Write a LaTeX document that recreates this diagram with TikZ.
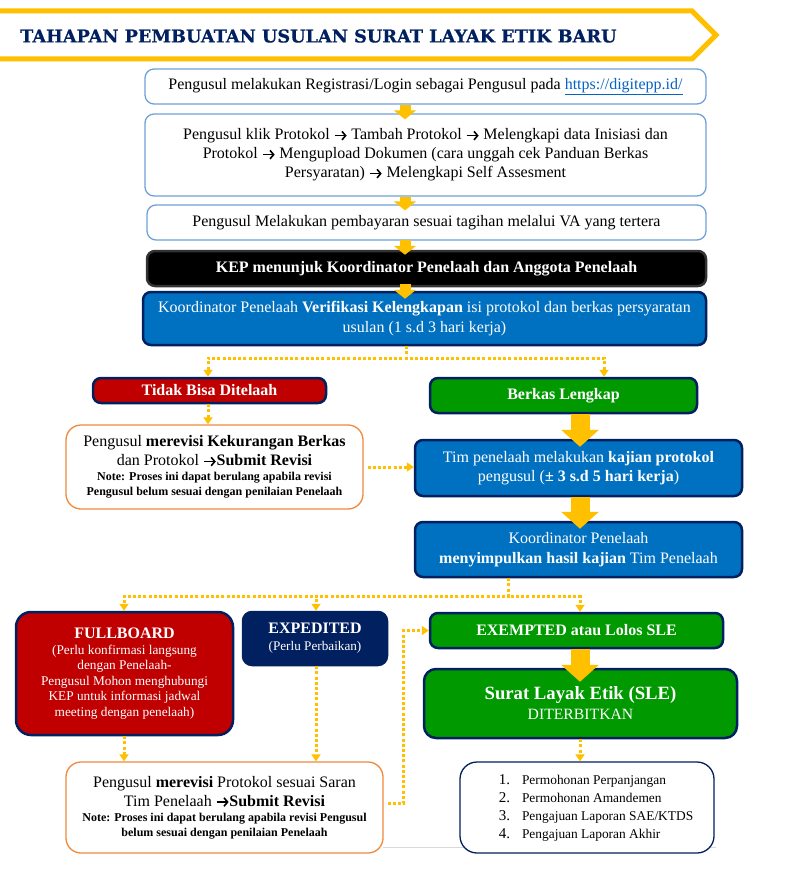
\documentclass[tikz,border=0pt]{standalone}
\usepackage{fontspec}
\setmainfont{Liberation Serif}
\newfontfamily\titlefont{DejaVu Serif}[BoldFeatures={FakeBold=0.6}]
\usetikzlibrary{arrows.meta,calc}
\definecolor{cyel}{HTML}{FFC000}
\definecolor{cnavy}{HTML}{002060}
\definecolor{cblue}{HTML}{0070C0}
\definecolor{cgreen}{HTML}{009900}
\definecolor{cred}{HTML}{C00000}
\definecolor{clblue}{HTML}{6FA0D8}
\definecolor{corange}{HTML}{F08A3C}
\definecolor{clink}{HTML}{0563C1}
\definecolor{cgray}{HTML}{D9D9D9}
\newcommand\fs[2]{\fontsize{#1}{#2}\selectfont}
\newcommand\notefont{\fs{12}{15}\bfseries}
\newcommand\ar{\tikz[baseline=-4.2pt]\draw[draw=black, line width=1.6pt, -{Straight Barb[length=3.6pt,width=8.5pt]}] (0pt,0pt) -- (12pt,0pt);}
\begin{document}
\begin{tikzpicture}[x=1pt,y=-1pt,
  wbox/.style={draw=clblue, line width=1.3pt, fill=white, rounded corners=9pt, align=center, inner sep=0pt, font=\fs{16}{19}},
  bbox/.style={draw=cnavy, line width=2.5pt, fill=cblue, text=white, rounded corners=8pt, align=center, inner sep=0pt, font=\fs{16}{19.5}},
  gbox/.style={bbox, fill=cgreen},
  rbox/.style={bbox, fill=cred},
  kbox/.style={bbox, fill=black, draw=black!80},
  obox/.style={draw=corange, line width=1.3pt, fill=white, rounded corners=15pt, align=center, inner sep=0pt, font=\fs{16}{19}},
  lbox/.style={draw=cnavy, line width=1.3pt, fill=white, rounded corners=17pt, align=left, inner sep=0pt, font=\fs{13.4}{18}},
  blk/.style={draw=cyel, line width=11pt, -{Triangle[width=22pt,length=9pt]}},
  bigblk/.style={draw=cyel, line width=19pt, -{Triangle[width=37pt,length=17pt]}},
  dotc/.style={draw=cyel, line width=3pt, dash pattern=on 3pt off 2.2pt, -{Triangle[width=9pt,length=7pt]}},
]
\useasboundingbox (0,0) rectangle (806,877);
\fill[white] (0,0) rectangle (806,877);

% header banner
\draw[cyel, line width=5pt, fill=white] (-6,11) -- (692,11) -- (716,35) -- (692,59) -- (-6,59);
\node[anchor=west, text=cnavy, inner sep=0pt, font=\titlefont\bfseries\fs{17.7}{22}] (title) at (20,36) {TAHAPAN PEMBUATAN USULAN SURAT LAYAK ETIK BARU};

% column coordinates
\coordinate (xa) at (405,0);
\coordinate (xd) at (406,0);
\coordinate (xt) at (208,0);
\coordinate (xb) at (604,0);
\coordinate (xg) at (580,0);
\coordinate (xk) at (508,0);
\coordinate (xf) at (124,0);
\coordinate (xe) at (316,0);
\coordinate (g1) at (383,847);
\coordinate (g2) at (716,847);

\draw[cgray, line width=0.8pt] (g1) -- (g2);

% top chain
\node[wbox, minimum width=561pt, minimum height=35pt] (n1) at (425.5,86.5)
  {Pengusul melakukan Registrasi/Login sebagai Pengusul pada \textcolor{clink}{\underline{https://digitepp.id/}}};
\node[wbox, minimum width=561pt, minimum height=82pt] (n2) at (425.5,155)
  {Pengusul klik Protokol \ar{} Tambah Protokol \ar{} Melengkapi data Inisiasi dan\\
   Protokol \ar{} Mengupload Dokumen (cara unggah cek Panduan Berkas\\
   Persyaratan) \ar{} Melengkapi Self Assesment};
\node[wbox, minimum width=559pt, minimum height=35pt] (n3) at (426.5,222.5)
  {Pengusul Melakukan pembayaran sesuai tagihan melalui VA yang tertera};
\node[kbox, minimum width=559pt, minimum height=35pt, font=\fs{16}{19}\bfseries] (n4) at (426.5,268.5)
  {KEP menunjuk Koordinator Penelaah dan Anggota Penelaah};
\node[bbox, minimum width=563pt, minimum height=53pt] (n5) at (424.5,318.5)
  {Koordinator Penelaah \textbf{Verifikasi Kelengkapan} isi protokol dan berkas persyaratan\\ usulan (1 s.d 3 hari kerja)};

% left branch
\node[rbox, minimum width=233pt, minimum height=25pt, font=\fs{16}{19}\bfseries] (tidak) at (209.5,390.5) {Tidak Bisa Ditelaah};
\node[obox, minimum width=297pt, minimum height=84pt] (rev1) at (214.5,467)
  {Pengusul \textbf{merevisi Kekurangan Berkas}\\
   dan Protokol \ar\textbf{Submit Revisi}\\[-4pt]
   {\notefont Note: Proses ini dapat berulang apabila revisi}\\[-4pt]
   {\notefont Pengusul belum sesuai dengan penilaian Penelaah}};

% right branch
\node[gbox, minimum width=267pt, minimum height=35pt, font=\fs{16}{19}\bfseries] (berkas) at (563.5,395.5) {Berkas Lengkap};
\node[bbox, minimum width=327pt, minimum height=56pt] (tim) at (578.5,468)
  {Tim penelaah melakukan \textbf{kajian protokol}\\ pengusul (\textbf{± 3 s.d 5 hari kerja})};
\node[bbox, minimum width=327pt, minimum height=55pt] (kor) at (578.5,549.5)
  {Koordinator Penelaah\\ \textbf{menyimpulkan hasil kajian} Tim Penelaah};

% outcomes
\node[rbox, minimum width=217pt, minimum height=123pt, rounded corners=15pt, font=\fs{13.3}{15.5}] (full) at (124.5,673.5)
  {{\fs{16}{19}\bfseries FULLBOARD}\\
   (Perlu konfirmasi langsung\\ dengan Penelaah-\\ Pengusul Mohon menghubungi\\ KEP untuk informasi jadwal\\ meeting dengan penelaah)};
\node[bbox, fill=cnavy, minimum width=144pt, minimum height=53pt, rounded corners=9pt, font=\fs{13.2}{17}] (exped) at (315,638.5)
  {{\fs{16}{19}\bfseries EXPEDITED}\\ (Perlu Perbaikan)};
\node[obox, minimum width=317pt, minimum height=91pt] (rev2) at (224.5,807.5)
  {Pengusul \textbf{merevisi} Protokol sesuai Saran\\
   Tim Penelaah \ar\textbf{Submit Revisi}\\[-4pt]
   {\notefont Note: Proses ini dapat berulang apabila revisi Pengusul}\\[-4pt]
   {\notefont belum sesuai dengan penilaian Penelaah}};
\node[gbox, minimum width=293pt, minimum height=35pt, font=\fs{16}{19}\bfseries] (exempt) at (576.5,630.5) {EXEMPTED atau Lolos SLE};
\node[gbox, minimum width=313pt, minimum height=69pt, rounded corners=12pt, font=\fs{15.7}{20}] (sle) at (580.5,703.5)
  {{\fs{18.7}{22}\bfseries Surat Layak Etik (SLE)}\\ DITERBITKAN};
\node[lbox, minimum width=254pt, minimum height=91pt] (list) at (587,807.5)
  {\begin{tabular}{@{\hspace{18pt}}r@{\hspace{12pt}}l@{}}
   {\fs{15}{18}1.} & Permohonan Perpanjangan\\
   {\fs{15}{18}2.} & Permohonan Amandemen\\
   {\fs{15}{18}3.} & Pengajuan Laporan SAE/KTDS\\
   {\fs{15}{18}4.} & Pengajuan Laporan Akhir
   \end{tabular}};

% block arrows
\draw[blk] (n1.south -| xa) -- ($(n2.north -| xa)+(0,6)$);
\draw[blk] (n2.south -| xa) -- ($(n3.north -| xa)+(0,6)$);
\draw[blk] ($(n3.south -| xa)+(0,-1)$) -- ($(n4.north -| xa)+(0,5)$);
\draw[blk] ($(n4.south -| xa)+(0,-3)$) -- ($(n5.north -| xa)+(0,8)$);
\draw[bigblk] (berkas.south -| xg) -- ($(tim.north -| xg)+(0,8)$);
\draw[bigblk] (tim.south -| xg) -- ($(kor.north -| xg)+(0,8)$);
\draw[bigblk] (exempt.south -| xg) -- ($(sle.north -| xg)+(0,14)$);

% dotted connectors
\draw[dotc] (n5.south -| xd) -- ++(0,12) -| (tidak.north -| xt);
\draw[dotc] (n5.south -| xd) -- ++(0,12) -| (berkas.north -| xb);
\draw[dotc] (tidak.south -| xt) -- (rev1.north -| xt);
\draw[dotc, shorten <=4pt] (rev1.east) -- (rev1.east -| tim.west);
\draw[dotc] (kor.south -| xk) -- ++(0,18) -| (full.north -| xf);
\draw[dotc] (kor.south -| xk) -- ++(0,18) -| (exped.north -| xe);
\draw[dotc] (kor.south -| xk) -- ++(0,18) -| (exempt.north -| xg);
\draw[dotc] (full.south -| xf) -- (rev2.north -| xf);
\draw[dotc] (exped.south -| xe) -- (rev2.north -| xe);
\draw[dotc, shorten <=4pt] ($(rev2.east)+(0,-4)$) -- ++(20,0) |- (exempt.west);
\draw[dotc] (sle.south -| xg) -- (list.north -| xg);
\end{tikzpicture}
\end{document}
